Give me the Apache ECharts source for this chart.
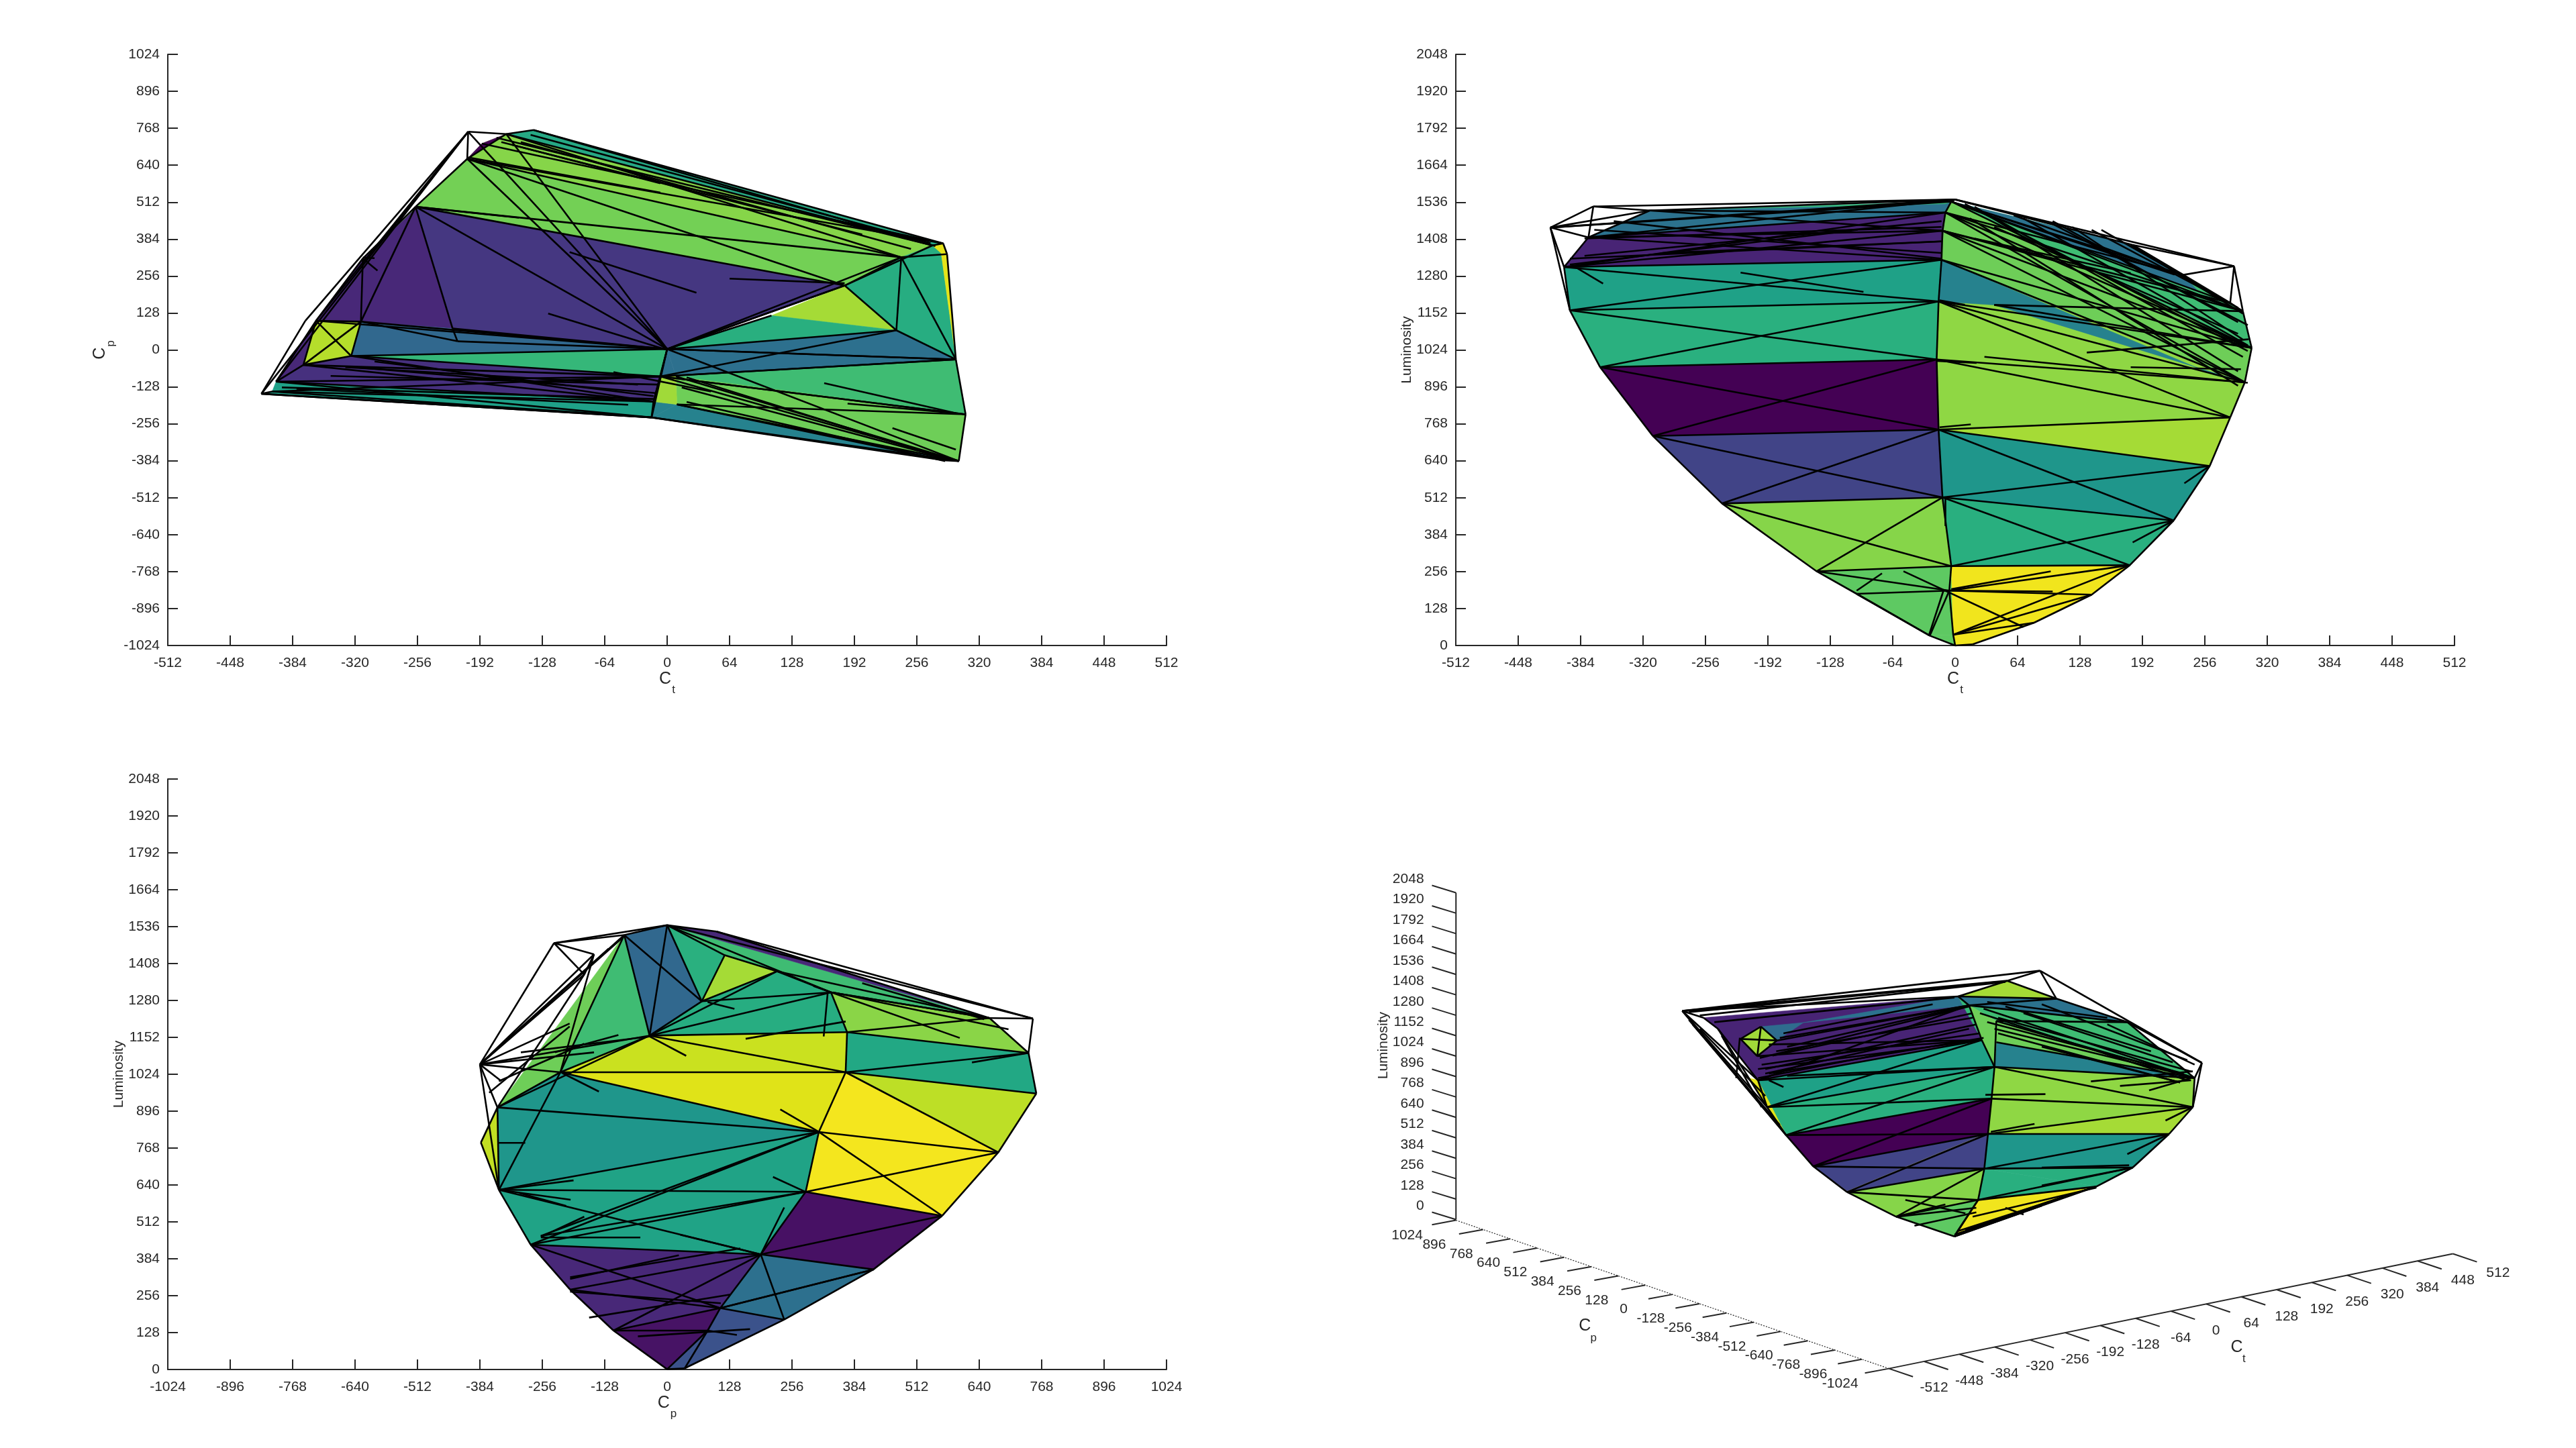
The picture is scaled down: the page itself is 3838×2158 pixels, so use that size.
<!DOCTYPE html>
<html><head><meta charset="utf-8">
<script src="https://cdn.jsdelivr.net/npm/echarts@6/dist/echarts.min.js"></script>
<style>html,body{margin:0;background:#fff}#c{width:3838px;height:2158px}</style></head>
<body><div id="c"></div>
<script>
// ---------- tick values ----------
const ctTicks=[-512,-448,-384,-320,-256,-192,-128,-64,0,64,128,192,256,320,384,448,512];
const cpTicks=[-1024,-896,-768,-640,-512,-384,-256,-128,0,128,256,384,512,640,768,896,1024];
const lumTicks=[0,128,256,384,512,640,768,896,1024,1152,1280,1408,1536,1664,1792,1920,2048];

// ---------- Panel 1: Ct / Cp ----------
const p1Points={a:[-416,-152],b:[-371,101],c:[-204,756],d:[-165,748],e:[-137,762],f:[283,369],g:[287,332],gl:[281,335],h:[296,-33],i:[306,-223],j:[299,-385],k:[283,-382],l:[-16,-234],m:[272,362],n:[-205,662],o:[-258,496],p:[-312,317],q:[-314,98],r:[-360,101],s:[-324,-21],t:[-373,-52],u:[-401,-110],v:[-220,74],w:[-215,30],x:[0,3],y:[182,223],z:[240,321],aa:[235,68],bb:[107,119],cc:[-7,-92],dd:[-14,-179],ee:[10,-189],ff:[-405,-144],gg:[9,-92],hh:[-190,715]};
const p1Faces=[
['#26a884','d e f m'],['#86d549','hh d m z n'],['#440154','d hh n'],['#73d055','n z y o'],['#453781','o y x v'],['#482878','o v q p'],['#482878','p r q'],['#482878','u t r'],['#73d055','o n p'],
['#a5db36','bb y aa'],['#29af7f','x bb aa'],['#27ad81','y z gl h aa'],['#27ad81','z m f gl'],['#2d708e','x aa h gg'],['#2d708e','x gg cc'],['#3fbc73','gg h i j'],['#6ece58','gg i j ee'],['#26828e','l ee j k'],['#26828e','dd ee l'],['#e5e419','m f g gl'],['#e5e419','gl g h'],['#b5de2b','r q s t'],['#31688e','q v w x s'],['#31688e','v x w'],['#35b779','s x cc'],['#46307e','t s cc dd u'],['#1fa188','ff u dd l a'],['#a0da39','cc gg ee dd']
];
const p1Edges='a-b b-c a-c r-c u-c a-ff a-l a-l l-k k-j j-i i-h h-g g-f f-e f-m e-d d-c c-n n-d n-o o-p p-q o-q o-v v-w p-r r-q r-t r-s q-t q-s s-t t-u u-r r-x q-x q-w v-x w-x s-x s-cc s-dd t-cc t-dd u-cc u-dd u-l ff-dd ff-cc ff-l o-x o-y n-x c-x d-x n-z n-y d-z d-m e-m n-f o-z hh-f x-y x-z x-aa y-z y-aa z-aa bb-x z-h z-g y-m aa-h h-x h-x h-cc i-cc x-j cc-j cc-i ee-k ee-j x-cc x-dd x-l cc-dd dd-l l-j aa-cc y-x cc-h gg-j ee-i';
const p1Spikes=[[64,247,182,231],[161,-115,296,-219],[185,-186,296,-219],[-122,126,0,0],[-100,339,30,198],[-204,667,-7,545],[-258,496,-152,458],[231,-271,296,-345],[-159,711,-7,577],[-312,317,-297,275],[-55,-77,45,-144],[-312,320,-300,318],[-300,-40,-14,-160],[-330,-60,-30,-120],[-345,-90,-10,-120],[-140,745,270,370],[-150,720,250,350],[-170,720,200,400],[-175,735,275,360],[-380,-135,-40,-190],[-395,-130,-14,-170],[-320,-60,-10,-150],[20,-95,280,-370],[15,-130,285,-375],[20,-180,285,-385]];

// ---------- Panel 2: Ct / Luminosity ----------
const p2Points={A:[-415,1448],B:[-371,1521],C:[0,1545],D:[286,1314],E:[295,1158],F:[304,1031],G:[297,912],H:[282,790],I:[261,622],J:[224,433],K:[179,278],L:[140,176],M:[81,79],N:[18,4],O:[0,0],P:[-26,34],Q:[-101,179],R:[-142,257],S:[-239,492],T:[-310,726],U:[-364,964],V:[-395,1161],W:[-401,1311],X:[-376,1414],Y:[-313,1507],a:[-4,1538],a2:[-10,1500],a3:[-13,1437],a4:[-14,1336],a5:[-17,1192],a6:[-19,991],a7:[-17,748],a8:[-13,513],a9:[-4,275],a10:[-6,190],a11:[-2,37],b1:[234,1284],b2:[182,1388],b3:[282,1187],c1:[40,1180],c2:[265,938],c3:[-10,1530]};
const p2Faces=[
['#2c728e','Y a a2 X'],['#35b779','Y a c3'],['#482475','X a2 a4 W'],['#1fa187','W a4 a5 V'],['#2ab07f','V a5 a6 U'],['#440154','U a6 a7 T'],['#414487','T a7 a8 S'],['#86d549','S a8 a9 R'],['#5ec962','R a9 a11 P Q'],['#5ec962','P a11 O'],['#f1e51d','a9 K L M N a11'],['#f1e51d','a11 N O'],['#29af7f','a8 K a9'],['#1f968b','a8 a7 I J'],['#29af7f','a8 J K'],['#a5db36','a7 H I'],['#8fd744','a5 G H a7 a6'],['#6ece58','a a2 a4 G F E b3'],['#3fbc73','a b2 b1 E F'],['#2c728e','a b2 b1 b3'],['#a5db36','b2 b1 b3'],['#8fd744','a5 a4 G'],['#26828e','a4 c2 G c1 a5'],['#3fbc73','b1 E F']
];
const p2Edges='A-B B-C A-C A-a A-X A-W B-Y A-Y B-X W-X X-Y Y-C X-C A-V W-V V-U U-T T-S S-R R-Q Q-P P-O O-N N-M M-L L-K K-J J-I I-H H-G G-F F-E E-b3 b3-b1 b1-b2 b2-C D-C D-b1 D-E D-b3 D-b2 C-a a-a2 a2-a3 a3-a4 a4-a5 a5-a6 a6-a7 a7-a8 a8-a9 a9-a10 a10-a11 a11-O a2-F a2-G a2-E a3-F a3-G a4-F a4-G a-F a-E a-b3 a-b1 a2-b1 a3-b3 a3-E W-a2 W-a3 W-a4 X-a3 X-a4 Y-a3 X-a2 Y-a2 V-a4 W-a5 V-a5 U-a5 V-a6 U-a6 U-a7 T-a6 T-a7 T-a8 S-a7 S-a8 S-a9 R-a8 R-a9 R-a10 Q-a10 P-a10 Q-P a8-K a8-J a7-J a8-I a7-I a7-H a6-H a5-H a9-J a9-K a10-K a11-K a11-L a10-L a11-M a5-F c1-F c1-E a6-G a5-G';
const p2Spikes=[[-19,986,22,979],[135,1015,301,1061],[180,964,293,957],[182,357,224,433],[235,562,261,622],[-16,756,16,766],[-4,190,100,187],[-4,195,98,257],[-53,257,70,64],[-75,250,-101,190],[-10,414,-10,510],[-12,190,-27,34],[-16,1196,10,1180],[-387,1306,-361,1254],[-220,1292,-94,1225],[20,1410,180,1290],[40,1450,290,1080],[70,1480,300,1040],[100,1470,290,1120],[120,1450,295,1060],[150,1440,280,1190],[40,1490,225,1285],[60,1490,225,1290],[-380,1410,-14,1450],[-395,1320,-100,1440],[-300,1360,-14,1400],[-380,1350,-14,1470],[10,1530,300,1020],[20,1520,290,950],[30,1500,295,1000],[15,1480,290,900],[100,1460,300,1110],[-395,1340,-14,1400],[-370,1440,-14,1360],[-350,1470,-14,1340],[30,1000,300,910],[180,1388,295,1150],[140,1440,290,1170]];

// ---------- Panel 3: Cp / Luminosity ----------
const p3Points={T:[0,1541],A:[-232,1479],B:[-384,1058],C:[101,1519],D:[750,1217],E:[-88,1507],F:[118,1437],G:[225,1381],H:[71,1277],I:[-36,1158],J:[336,1308],K:[661,1219],L:[741,1098],M:[757,957],N:[679,753],O:[564,533],P:[423,347],Q:[240,173],R:[36,4],S:[0,1],U:[-110,135],V:[-199,277],W:[-280,433],X:[-345,623],Y:[-382,787],Z:[-348,909],a:[-219,1031],b:[366,1031],c:[369,1170],d:[311,824],e:[284,616],f:[192,399],g:[109,213],h:[83,135],i:[-259,463],j:[-150,1440],k:[-170,1370],l:[-340,1000]};
const p3Faces=[
['#6ece58','E I a Z'],['#3fbc73','E I a'],['#31688e','E T H I'],['#2ab07f','T F H'],['#a5db36','F G H'],['#27ad81','G J c I H'],['#3fbc73','T K J G F'],['#482878','T C K'],['#cae11f','I c b a'],['#e0e318','a b d'],['#1f968b','a d X Z'],['#20a386','X d e f W'],['#471164','e O P f'],['#2d708e','f P Q g'],['#3b528b','g Q R S h'],['#482878','W f g U V'],['#471365','U g h S'],['#f4e61e','b N O e d'],['#bddf26','b M N'],['#22a884','c L M b'],['#8ad547','J K L c'],['#c2df23','Y Z X']
];
const p3Edges='T-A A-B T-C C-D T-D D-K D-L A-E B-E B-I B-a B-Z B-l B-X A-j A-k j-k B-j B-k k-Z Z-Y Y-X X-W W-V V-U U-S S-R R-Q Q-P P-O O-N N-M M-L L-K K-J J-G G-F F-T T-E E-I E-H T-H T-I F-H G-H H-I G-I J-I J-H c-I I-a a-b I-b b-c c-J c-L c-K b-L b-M b-N d-b d-N d-O e-N e-O e-d a-d Z-d X-d X-e X-a X-Z a-Z X-f W-e W-d e-f f-O f-P f-g f-Q g-Q g-h h-R h-S g-P W-f V-f U-f V-g U-g U-h W-g i-e i-d P-g J-K G-K T-J E-a I-Z j-a C-K';
const p3Spikes=[[-259,458,-55,458],[27,467,192,399],[-345,623,-192,656],[-345,623,-198,589],[-303,612,-207,567],[217,668,284,616],[232,902,311,824],[240,562,192,399],[-199,314,24,396],[-348,786,-291,786],[161,1147,366,1207],[83,1274,138,1251],[-36,1155,39,1088],[-215,1028,-140,964],[321,1155,329,1303],[83,135,143,120],[625,1065,741,1098],[-230,1100,-100,1160],[-345,1000,-170,1130],[-300,1100,-36,1155],[340,1308,700,1180],[-259,460,-170,530],[-199,320,150,420],[-199,270,110,230],[-160,180,130,260],[-60,115,170,140],[400,1340,650,1215],[300,1330,600,1150],[-384,1058,-90,1500],[-384,1058,-120,1460],[-384,1058,-200,1200],[-384,1058,-150,1100],[-365,960,-200,1190]];

// ---------- Panel 4: projected view of the same gamut, in view-plane units ----------
const p4Points={A:[12,320],B:[995,140],C:[1440,552],D:[70,350],E:[770,255],F:[905,185],G:[1040,265],H:[1235,370],I:[1420,620],J:[1415,750],K:[1350,870],L:[1250,1020],M:[1150,1105],N:[1000,1190],O:[760,1328],P:[600,1240],Q:[465,1130],R:[372,1015],S:[297,875],T:[245,750],U:[220,630],V:[110,400],s1:[800,295],s2:[835,450],s3:[870,570],s4:[862,712],s5:[852,870],s6:[842,1025],s7:[825,1165],s8:[768,1305],r1:[875,365],r2:[875,460],d1:[172,445],d2:[228,390],d3:[272,452],d4:[218,522],d5:[345,372],y1:[195,620],y2:[465,1125],y3:[830,878]};
const p4Faces=[
['#482475','D E s1 s2 U V'],['#2c728e','d5 E s1'],['#35b779','E s1 s2'],['#a0da39','d1 d2 d3 d4'],['#2f6c8e','d2 d5 d3'],['#1fa187','U s2 s3 T'],['#e5e419','y1 U T'],['#2ab07f','T s3 s4 S'],['#e5e419','T S U'],['#440154','S s4 s5 R'],['#414487','R s5 s6 Q'],['#f1e51d','y2 y3 s5 R'],['#414487','R y3 y2'],['#86d549','Q s6 s7 P'],['#5ec962','P s7 s8 O'],['#f1e51d','s7 M N O s8'],['#29af7f','s6 M s7'],['#29af7f','s6 L M'],['#1f968b','s5 K L s6'],['#a5db36','s5 J K'],['#8fd744','s3 J s5 s4'],['#8fd744','s3 I J'],['#26828e','r2 I s3'],['#6ece58','r1 I r2'],['#3fbc73','s1 H I r1'],['#2c728e','E G H s1'],['#a5db36','E F G'],['#6ece58','s1 r1 r2 s3 s2']
];
const p4Edges='A-B A-F A-E A-D B-F B-C B-G C-H C-I C-J A-U A-T A-S V-U U-T T-S S-R R-Q Q-P P-O O-N N-M M-L L-K K-J J-I I-H H-G G-F F-E E-s1 s1-s2 s2-s3 s3-s4 s4-s5 s5-s6 s6-s7 s7-s8 s8-O r1-s3 U-s3 U-s2 U-s1 T-s3 T-s2 T-s4 S-s4 S-s3 S-s5 R-s4 R-s5 R-s6 Q-s5 Q-s6 Q-s7 P-s6 P-s7 O-s7 s5-K s5-J s4-J s3-J s3-I r2-I r1-I r1-H s1-H s1-G s6-K s6-L s7-L s7-M s8-M O-N d1-d2 d2-d3 d3-d4 d4-d1 d2-d4 d1-d3 V-D V-T d4-s2 d3-s1 E-G';
const p4Spikes=[[220,580,835,450],[225,530,800,300],[250,470,835,450],[280,440,800,295],[240,600,800,400],[260,520,810,330],[290,420,700,290],[220,620,600,500],[300,610,870,570],[840,310,1420,620],[830,330,1400,630],[850,370,1390,600],[880,420,1380,640],[900,300,1300,500],[950,330,1360,550],[850,280,1180,350],[1135,635,1415,590],[1215,655,1410,630],[1295,675,1410,620],[845,695,1010,692],[860,860,980,825],[1340,810,1415,750],[1235,960,1350,870],[625,1165,790,1225],[735,1185,600,1240],[900,1200,950,1230],[250,630,290,660],[170,440,160,620],[120,430,230,750],[60,400,240,700],[30,360,300,880],[40,380,280,830],[1180,380,1420,560],[1000,290,1400,540],[240,580,820,380],[230,560,830,420],[250,600,840,440],[270,500,810,350],[300,480,790,300],[100,370,760,260],[60,340,900,190],[30,325,880,190],[880,350,1410,590],[870,400,1400,610],[1000,480,1380,640],[760,1320,1000,1190],[780,1310,1120,1120],[790,1300,1060,1150],[810,1240,1150,1110],[600,1240,820,1200],[650,1280,820,1220],[1000,1100,1250,1020],[1000,1020,1240,1010]];

// ---------- Helpers ----------
const TXT='#262626',FONT='"Liberation Sans",Arial,sans-serif',FS=21,LW=2.6;
function parseFaces(points,faces){return faces.map(f=>({color:f[0],pts:f[1].split(' ').map(n=>points[n])}));}
function parseSegs(points,str,spikes){return str.split(' ').map(s=>{const [p,q]=s.split('-');return [points[p][0],points[p][1],points[q][0],points[q][1]];}).concat(spikes);}
function meshSeries(xi,yi,faces,segs,lw){
  const F=parseFaces(...faces),S=parseSegs(...segs);
  return [{type:'custom',xAxisIndex:xi,yAxisIndex:yi,silent:true,clip:false,z:2,animation:false,
    data:F.map((f,i)=>[f.pts[0][0],f.pts[0][1],i]),encode:{x:0,y:1},
    renderItem:(p,api)=>{const f=F[api.value(2)];return {type:'polygon',shape:{points:f.pts.map(q=>api.coord(q))},style:{fill:f.color,stroke:f.color,lineWidth:0.6}};}},
   {type:'custom',xAxisIndex:xi,yAxisIndex:yi,silent:true,clip:false,z:3,animation:false,
    data:S.map((s,i)=>[s[0],s[1],i]),encode:{x:0,y:1},
    renderItem:(p,api)=>{const s=S[api.value(2)],a=api.coord([s[0],s[1]]),b=api.coord([s[2],s[3]]);return {type:'line',shape:{x1:a[0],y1:a[1],x2:b[0],y2:b[1]},style:{stroke:'#000',lineWidth:lw}};}}];
}
function subName(c,s){return '{c|'+c+'}{s|'+s+'}';}
const subRich={c:{fontSize:25,fontFamily:FONT,color:TXT,padding:[0,0,32,0]},s:{fontSize:17,fontFamily:FONT,color:TXT,padding:[0,0,0,1]}};
function axis(dim,gridIndex,min,max,interval,name,gap,rich){
  const o={type:'value',gridIndex,min,max,interval,position:dim=='x'?'bottom':'left',splitLine:{show:false},
    axisLine:{show:true,onZero:false,lineStyle:{color:TXT,width:2}},
    axisTick:{show:true,inside:true,length:15,lineStyle:{color:TXT,width:2}},
    axisLabel:{show:true,color:TXT,fontSize:FS,fontFamily:FONT,margin:dim=='x'?15:12,padding:dim=='x'?[1,0,0,0]:[4,0,0,0],hideOverlap:false,showMinLabel:true,showMaxLabel:true,formatter:v=>String(v)},
    name,nameLocation:'middle',nameGap:gap,
    nameTextStyle:{color:TXT,fontSize:FS,fontFamily:FONT,rich:rich?subRich:undefined}};
  return o;
}
function hidden(gridIndex,min,max,inverse){return {type:'value',gridIndex,min,max,inverse:!!inverse,show:false};}

// 3D frame: tick value -> view-plane point
const ctPos=v=>{const t=(v+512)/1024;return [705+t*775,1385-t*312];};
const cpPos=v=>{const t=(1024-v)/2048;return [110+t*595,982+t*403];};
const lumPos=v=>{const t=v/2048;return [110,980-t*888];};
function frameSeries(){
  const items=[];
  const line=(a,b,w,dash)=>items.push({k:'l',a,b,w,dash});
  const text=(p,t,al,fs,rot)=>items.push({k:'t',p,t,al,fs,rot});
  line(lumPos(0),lumPos(2048),2);
  line(cpPos(1024),cpPos(-1024),1.2,[2,2]);
  line(ctPos(-512),ctPos(512),2);
  lumTicks.forEach(v=>{const p=lumPos(v);line(p,[p[0]-33,p[1]-20],2);text([66,p[1]-37],String(v),'right',FS);});
  cpTicks.forEach(v=>{const p=cpPos(v);line(p,[p[0]-33,p[1]+12],2);text([p[0]-67,p[1]+41],String(v),'center',FS);});
  ctTicks.forEach(v=>{const p=ctPos(v);line(p,[p[0]+33,p[1]+22],2);text([p[0]+62,p[1]+53],String(v),'center',FS);});
  text([287,1270],'C','center',25);text([299,1303],'p','center',17);
  text([1183,1327],'C','center',25);text([1193,1358],'t','center',17);
  text([10,507],'Luminosity','center',FS,Math.PI/2);
  return {type:'custom',xAxisIndex:3,yAxisIndex:3,silent:true,clip:false,z:1,animation:false,
    data:items.map((it,i)=>[0,0,i]),encode:{x:0,y:1},
    renderItem:(p,api)=>{const it=items[api.value(2)];
      if(it.k=='l'){const a=api.coord(it.a),b=api.coord(it.b);return {type:'line',shape:{x1:a[0],y1:a[1],x2:b[0],y2:b[1]},style:{stroke:TXT,lineWidth:it.w,lineDash:it.dash||null}};}
      const q=api.coord(it.p);return {type:'text',x:q[0],y:q[1],rotation:it.rot||0,style:{text:it.t,fill:TXT,font:it.fs+'px '+FONT,textAlign:it.al,textVerticalAlign:'middle'}};}};
}

const option={animation:false,backgroundColor:'#fff',
 grid:[
  {left:250,top:81,width:1488,height:881},
  {left:2169,top:81,width:1488,height:881},
  {left:250,top:1161,width:1488,height:880},
  {left:2050,top:1280,width:1700,height:860},
  {left:2500,top:1400,width:850,height:480}],
 xAxis:[axis('x',0,-512,512,64,subName('C','t'),33,true),axis('x',1,-512,512,64,subName('C','t'),33,true),axis('x',2,-1024,1024,128,subName('C','p'),33,true),hidden(3,0,1568),hidden(4,0,1568)],
 yAxis:[axis('y',0,-1024,1024,128,subName('C','p'),56,true),axis('y',1,0,2048,128,'Luminosity',58,false),axis('y',2,0,2048,128,'Luminosity',58,false),hidden(3,0,1568,true),hidden(4,0,1440,true)],
 series:[
  ...meshSeries(0,0,[p1Points,p1Faces],[p1Points,p1Edges,p1Spikes],LW),
  ...meshSeries(1,1,[p2Points,p2Faces],[p2Points,p2Edges,p2Spikes],LW),
  ...meshSeries(2,2,[p3Points,p3Faces],[p3Points,p3Edges,p3Spikes],LW),
  frameSeries(),
  ...meshSeries(4,4,[p4Points,p4Faces],[p4Points,p4Edges,p4Spikes],LW)
 ]};
echarts.init(document.getElementById('c'),null,{renderer:'canvas'}).setOption(option);
</script></body></html>
